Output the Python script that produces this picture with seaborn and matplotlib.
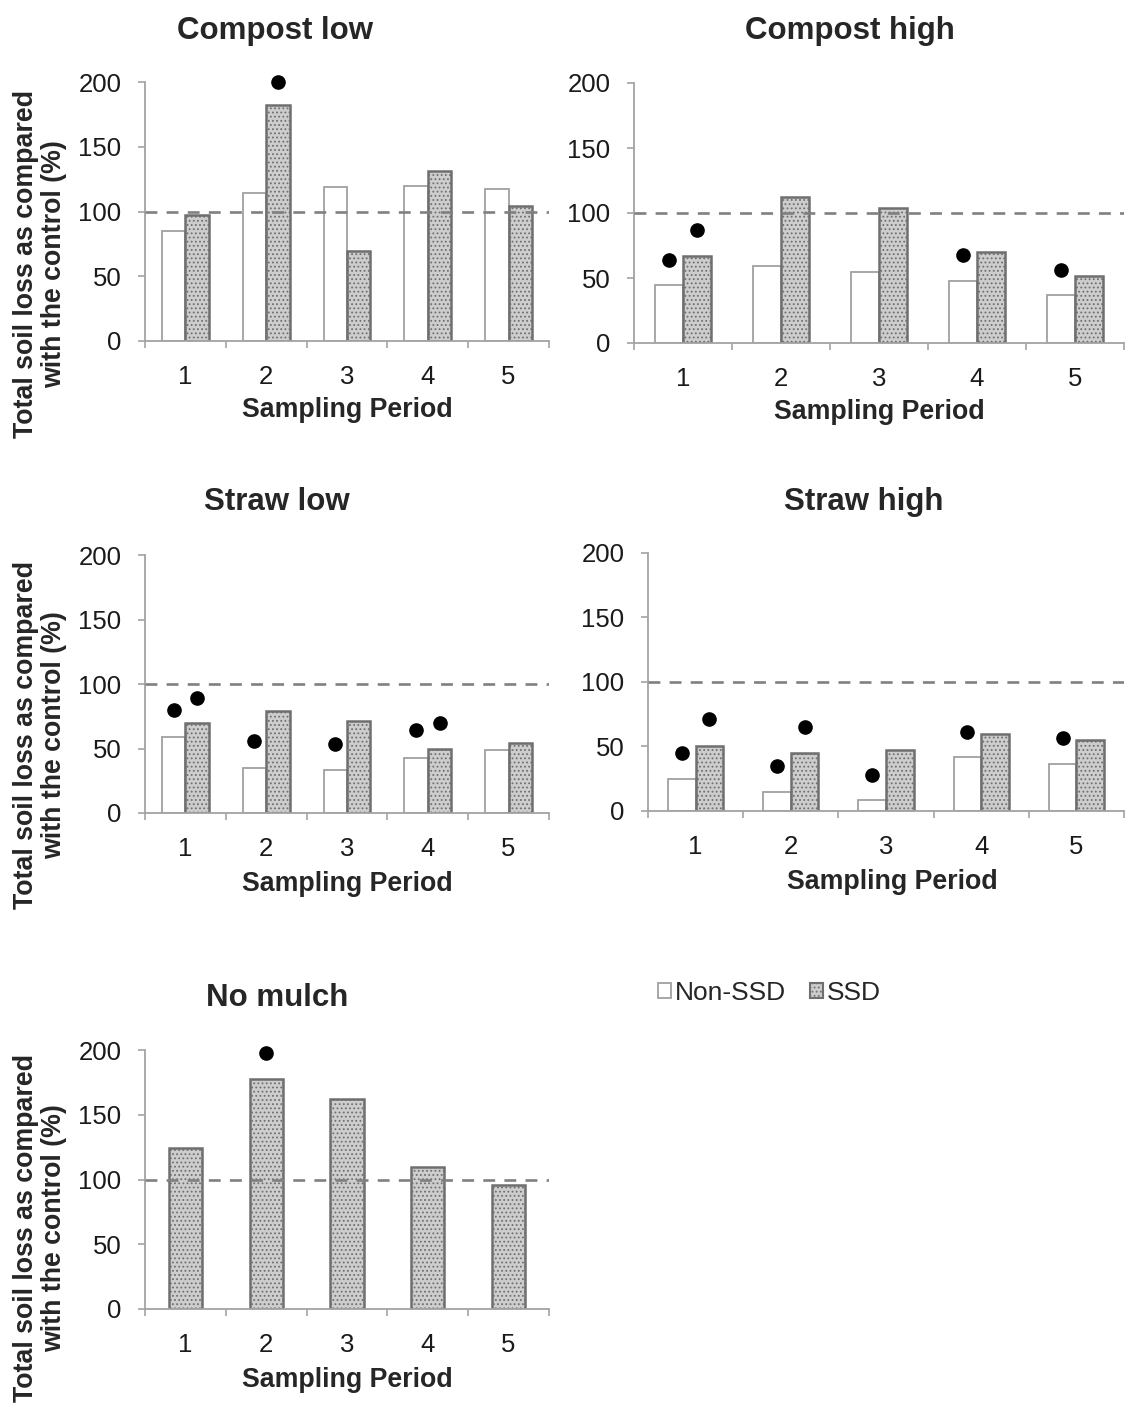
import numpy as np
import pandas as pd
import matplotlib
matplotlib.use("Agg")
import matplotlib.pyplot as plt
import seaborn as sns
from matplotlib.patches import Patch

# ---------------------------------------------------------------------------
# Data: total soil loss relative to the control (%), per sampling period
# ---------------------------------------------------------------------------
periods = ["1", "2", "3", "4", "5"]
groups = ["Non-SSD", "SSD"]

compost_low_non = [85, 114, 119, 120, 117]
compost_low_ssd = [97.5, 182, 69.5, 131.5, 104]
compost_low_sig_non = [np.nan, np.nan, np.nan, np.nan, np.nan]
compost_low_sig_ssd = [np.nan, 200, np.nan, np.nan, np.nan]

compost_high_non = [44.5, 59, 55, 47.5, 36.8]
compost_high_ssd = [67, 112.5, 104, 70, 51.5]
compost_high_sig_non = [64, np.nan, np.nan, 67.5, 56.5]
compost_high_sig_ssd = [87, np.nan, np.nan, np.nan, np.nan]

straw_low_non = [58.8, 35, 33.2, 43, 48.8]
straw_low_ssd = [70, 78.7, 71, 49.4, 54.5]
straw_low_sig_non = [79.5, 56.2, 53.2, 64, np.nan]
straw_low_sig_ssd = [89.2, np.nan, np.nan, 69.8, np.nan]

straw_high_non = [24.9, 15.1, 8.2, 41.6, 36.4]
straw_high_ssd = [50.6, 45.2, 47.5, 59.9, 55.4]
straw_high_sig_non = [45, 34.9, 27.7, 61.6, 56.5]
straw_high_sig_ssd = [71.4, 65.5, np.nan, np.nan, np.nan]

no_mulch_ssd = [124, 177.5, 162.5, 109.5, 95.7]
no_mulch_sig_ssd = [np.nan, 198, np.nan, np.nan, np.nan]

control_level = 100
y_ticks = [0, 50, 100, 150, 200]

# ---------------------------------------------------------------------------
# Style
# ---------------------------------------------------------------------------
sns.set_theme(style="white")
plt.rcParams["font.family"] = ["Liberation Sans", "DejaVu Sans"]
plt.rcParams["hatch.linewidth"] = 0.8

AXIS_GREY = "#a3a3a3"
SSD_FACE = "#cdcdcd"
SSD_EDGE = "#6f6f6f"
NON_EDGE = "#a0a0a0"
DASH_GREY = "#808080"

W, H = 1131, 1407
fig = plt.figure(figsize=(W / 100, H / 100), dpi=100)


def px_axes(left, right, top, bottom):
    return fig.add_axes([left / W, 1 - bottom / H, (right - left) / W, (bottom - top) / H])


def style_axes(ax):
    ax.set_xlim(-0.5, 4.5)
    ax.set_ylim(0, 200)
    for s in ["top", "right"]:
        ax.spines[s].set_visible(False)
    for s in ["left", "bottom"]:
        ax.spines[s].set_color(AXIS_GREY)
        ax.spines[s].set_linewidth(1.3)
    ax.set_yticks(y_ticks)
    ax.set_yticklabels([str(t) for t in y_ticks])
    ax.tick_params(axis="y", direction="out", length=5, width=1.2, color=AXIS_GREY,
                   labelsize=18.5, labelcolor="#1a1a1a", pad=12, left=True)
    ax.set_xticks(range(len(periods)))
    ax.set_xticklabels(periods)
    ax.tick_params(axis="x", which="major", length=0, labelsize=18.5,
                   labelcolor="#1a1a1a", pad=17)
    ax.set_xticks(np.arange(-0.5, len(periods), 1.0), minor=True)
    ax.tick_params(axis="x", which="minor", direction="out", length=5, width=1.2,
                   color=AXIS_GREY, bottom=True)
    ax.set_xlabel("")
    ax.set_ylabel("")
    ax.axhline(control_level, color=DASH_GREY, lw=1.9, ls=(0, (4.5, 3.5)), zorder=5)


def paired_panel(ax, non, ssd, sig_non, sig_ssd):
    df = pd.DataFrame({
        "period": periods * 2,
        "group": [groups[0]] * len(periods) + [groups[1]] * len(periods),
        "value": list(non) + list(ssd),
    })
    sns.barplot(data=df, x="period", y="value", hue="group", hue_order=groups,
                order=periods, width=0.58, ax=ax, legend=False,
                palette={groups[0]: "white", groups[1]: SSD_FACE}, saturation=1,
                errorbar=None)
    non_bars, ssd_bars = ax.containers[0], ax.containers[1]
    for b in non_bars:
        b.set_facecolor("white")
        b.set_edgecolor(NON_EDGE)
        b.set_linewidth(1.3)
    for b in ssd_bars:
        b.set_facecolor(SSD_FACE)
        b.set_edgecolor(SSD_EDGE)
        b.set_hatch("....")
        b.set_linewidth(1.8)
    for bars, sig in ((non_bars, sig_non), (ssd_bars, sig_ssd)):
        xs = [b.get_x() + b.get_width() / 2 for b in bars]
        ax.plot(xs, sig, ls="none", marker="o", ms=9.5, color="black", zorder=6,
                clip_on=False)
    style_axes(ax)


def single_panel(ax, ssd, sig_ssd):
    df = pd.DataFrame({"period": periods, "value": ssd})
    sns.barplot(data=df, x="period", y="value", order=periods, width=0.41, ax=ax,
                color=SSD_FACE, saturation=1, errorbar=None)
    bars = ax.containers[0]
    for b in bars:
        b.set_facecolor(SSD_FACE)
        b.set_edgecolor(SSD_EDGE)
        b.set_hatch("....")
        b.set_linewidth(1.8)
    xs = [b.get_x() + b.get_width() / 2 for b in bars]
    ax.plot(xs, sig_ssd, ls="none", marker="o", ms=9.5, color="black", zorder=6,
            clip_on=False)
    style_axes(ax)


ax1 = px_axes(145, 549, 82, 341)
paired_panel(ax1, compost_low_non, compost_low_ssd, compost_low_sig_non, compost_low_sig_ssd)
ax2 = px_axes(634, 1124, 83, 343)
paired_panel(ax2, compost_high_non, compost_high_ssd, compost_high_sig_non, compost_high_sig_ssd)
ax3 = px_axes(145, 549, 555, 813)
paired_panel(ax3, straw_low_non, straw_low_ssd, straw_low_sig_non, straw_low_sig_ssd)
ax4 = px_axes(648, 1124, 553, 811)
paired_panel(ax4, straw_high_non, straw_high_ssd, straw_high_sig_non, straw_high_sig_ssd)
ax5 = px_axes(145, 549, 1050, 1309)
single_panel(ax5, no_mulch_ssd, no_mulch_sig_ssd)


def ftext(x, y, s, **kw):
    fig.text(x / W, 1 - y / H, s, **kw)


# Panel titles
for (x, y, s) in [(275, 31, "Compost low"), (850, 31, "Compost high"),
                  (277, 502, "Straw low"), (864, 502, "Straw high"),
                  (277, 998, "No mulch")]:
    ftext(x, y, s, ha="center", va="center", fontsize=22.5, fontweight="bold")

# X-axis titles
for (x, y) in [(347, 410), (879, 412), (347, 884), (892, 882), (347, 1380)]:
    ftext(x, y, "Sampling Period", ha="center", va="center", fontsize=19.3,
          fontweight="bold")

# Y-axis titles (left column)
for y in [264, 735, 1228]:
    ftext(40, y, "Total soil loss as compared\nwith the control (%)", ha="center",
          va="center", rotation=90, fontsize=19.3, fontweight="bold", linespacing=1.1)

# Legend
handles = [Patch(facecolor="white", edgecolor=NON_EDGE, linewidth=1.3),
           Patch(facecolor=SSD_FACE, edgecolor=SSD_EDGE, hatch="....", linewidth=1.5)]
leg = fig.legend(handles, groups, loc="center left",
                 bbox_to_anchor=(658 / W, 1 - 993 / H), ncol=2, frameon=False,
                 fontsize=19, handlelength=0.5, handleheight=0.5,
                 handletextpad=0.15, columnspacing=0.9, borderpad=0,
                 borderaxespad=0)

fig.savefig("out.png", dpi=100)
